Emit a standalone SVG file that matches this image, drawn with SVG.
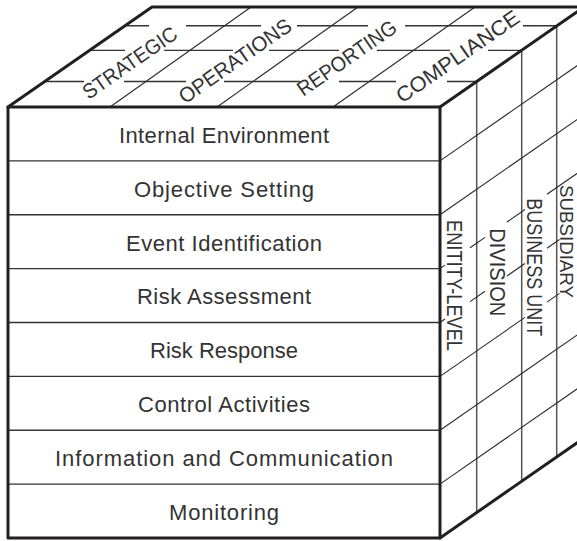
<svg xmlns="http://www.w3.org/2000/svg" width="577" height="541" viewBox="0 0 577 541">
<style>
.edge{stroke:#231f20;stroke-width:3;fill:none;stroke-linecap:round;stroke-linejoin:round}
.grid{stroke:#333;stroke-width:1.4;fill:none}
.thin{stroke:#2b2b2b;stroke-width:1.1;fill:none}
.col{stroke:#555;stroke-width:1.5;fill:none}
.lbl{font-family:"Liberation Sans",Arial,sans-serif;font-size:22px;fill:#333}
.front{text-anchor:middle}
.top{font-size:21px;text-anchor:middle}
</style>
<rect width="577" height="541" fill="#fff"/>

<g id="connectors">
  <!-- front face row dividers -->
  <g class="grid">
    <line x1="8" y1="160.9" x2="440" y2="160.9"/>
    <line x1="8" y1="214.75" x2="440" y2="214.75"/>
    <line x1="8" y1="268.6" x2="440" y2="268.6"/>
    <line x1="8" y1="322.5" x2="440" y2="322.5"/>
    <line x1="8" y1="376.4" x2="440" y2="376.4"/>
    <line x1="8" y1="430.25" x2="440" y2="430.25"/>
    <line x1="8" y1="484.1" x2="440" y2="484.1"/>
  </g>
  <!-- top face horizontal lines with gaps for labels -->
  <g class="grid">
    <path d="M127,25.8H149 M186,25.8H261 M297,25.8H368 M405,25.8H484 M523,25.8H556.7"/>
    <path d="M89.5,50.4H125 M164,50.4H233 M269,50.4H339 M377,50.4H450 M488,50.4H521.7"/>
    <path d="M44.7,81.5H84 M124,81.5H186 M224,81.5H300 M339,81.5H396 M447,81.5H476.7"/>
  </g>
  <!-- top face column dividers -->
  <g class="thin">
    <line x1="110" y1="107" x2="251" y2="7"/>
    <line x1="217" y1="107" x2="358" y2="7"/>
    <line x1="333" y1="107" x2="475" y2="7"/>
  </g>
  <!-- right face columns -->
  <g class="col">
    <line x1="476.7" y1="81.5" x2="476.7" y2="512.5"/>
    <line x1="521.7" y1="50.4" x2="521.7" y2="481.3"/>
    <line x1="556.7" y1="25.8" x2="556.7" y2="457"/>
  </g>
  <!-- right face depth lines -->
  <g class="thin">
    <line x1="440" y1="160.9" x2="584" y2="60.9"/>
    <line x1="440" y1="214.75" x2="584" y2="114.75"/>
    <path d="M440,268.6L445,265.13 M470,247.77L485,237.35 M507,222.07L525,209.57 M547,194.3L584,168.6"/>
    <path d="M440,322.5L445,319.03 M470,301.67L485,291.25 M507,275.97L525,263.48 M547,248.2L559.5,239.52"/>
    <path d="M440,376.4L525,317.38 M547,302.1L559.5,293.42"/>
    <line x1="440" y1="430.25" x2="584" y2="330.25"/>
    <line x1="440" y1="484.1" x2="584" y2="384.1"/>
  </g>
  <!-- outer edges -->
  <g class="edge">
    <rect x="8" y="107" width="432" height="431"/>
    <path d="M8,107L152,7H590"/>
    <path d="M440,107L584,7"/>
    <path d="M440,538L584,438"/>
  </g>
</g>

<g id="row-internal-environment"><text class="lbl front" x="224" y="142.8" textLength="210">Internal Environment</text></g>
<g id="row-objective-setting"><text class="lbl front" x="224" y="196.7" textLength="180">Objective Setting</text></g>
<g id="row-event-identification"><text class="lbl front" x="224" y="250.55" textLength="196">Event Identification</text></g>
<g id="row-risk-assessment"><text class="lbl front" x="224" y="304.4" textLength="174">Risk Assessment</text></g>
<g id="row-risk-response"><text class="lbl front" x="224" y="358.3" textLength="148">Risk Response</text></g>
<g id="row-control-activities"><text class="lbl front" x="224" y="412.2" textLength="172">Control Activities</text></g>
<g id="row-information-communication"><text class="lbl front" x="224" y="466.05" textLength="338">Information and Communication</text></g>
<g id="row-monitoring"><text class="lbl front" x="224" y="519.9" textLength="110">Monitoring</text></g>

<g id="col-strategic"><text class="lbl top" transform="translate(133.8,68.7) rotate(-34.8)" textLength="110" lengthAdjust="spacingAndGlyphs">STRATEGIC</text></g>
<g id="col-operations"><text class="lbl top" transform="translate(239.1,66.8) rotate(-34.8)" textLength="132" lengthAdjust="spacingAndGlyphs">OPERATIONS</text></g>
<g id="col-reporting"><text class="lbl top" transform="translate(350.8,64) rotate(-34.8)" textLength="116" lengthAdjust="spacingAndGlyphs">REPORTING</text></g>
<g id="col-compliance"><text class="lbl top" transform="translate(461.8,62.4) rotate(-34.8)" textLength="145" lengthAdjust="spacingAndGlyphs">COMPLIANCE</text></g>

<g id="unit-entity-level"><text class="lbl" transform="translate(446.7,220) rotate(90)" textLength="131" lengthAdjust="spacingAndGlyphs">ENITITY-LEVEL</text></g>
<g id="unit-division"><text class="lbl" transform="translate(490,228.3) rotate(90)" textLength="88" lengthAdjust="spacingAndGlyphs">DIVISION</text></g>
<g id="unit-business-unit"><text class="lbl" transform="translate(527,198.3) rotate(90)" textLength="138" lengthAdjust="spacingAndGlyphs">BUSINESS UNIT</text></g>
<g id="unit-subsidiary"><text class="lbl" style="font-size:19px" transform="translate(559.5,185) rotate(90)" textLength="113" lengthAdjust="spacingAndGlyphs">SUBSIDIARY</text></g>
</svg>
